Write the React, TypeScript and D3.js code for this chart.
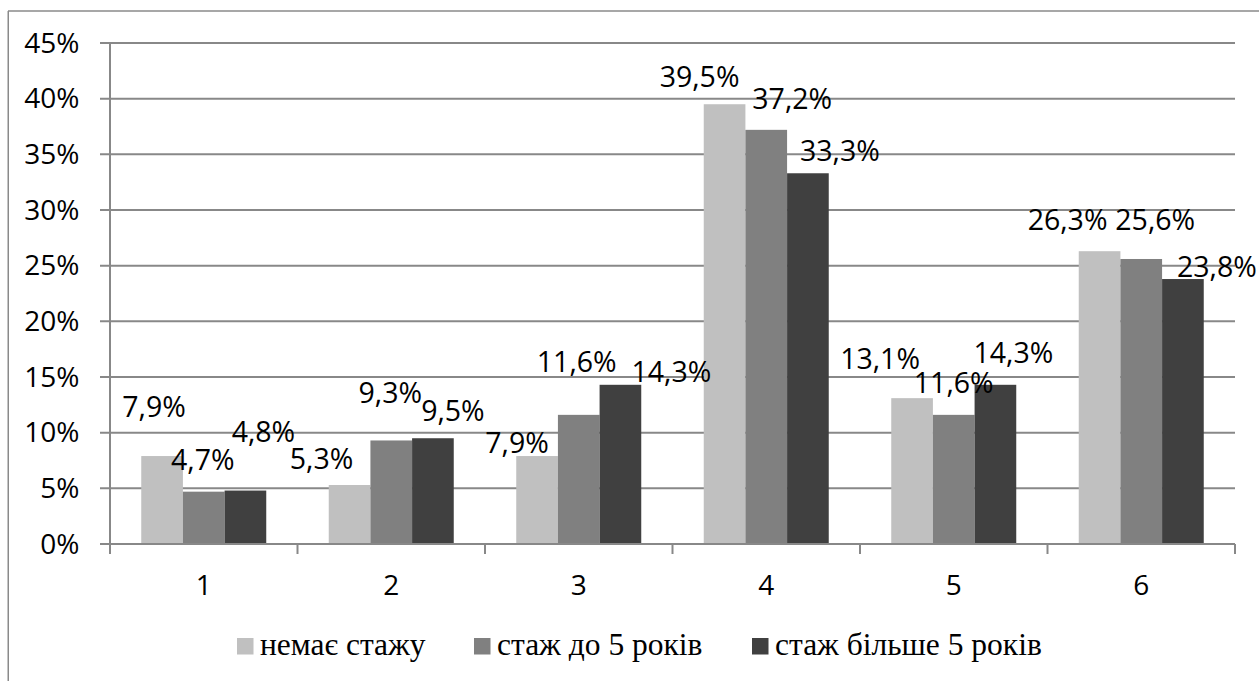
import React from "react";
import * as d3 from "d3";

const categories = ["1", "2", "3", "4", "5", "6"];
const seriesNames = ["немає стажу", "стаж до 5 років", "стаж більше 5 років"];
const noExperience = [7.9, 5.3, 7.9, 39.5, 13.1, 26.3];
const upTo5Years = [4.7, 9.3, 11.6, 37.2, 11.6, 25.6];
const over5Years = [4.8, 9.5, 14.3, 33.3, 14.3, 23.8];
const yTicks = [0, 5, 10, 15, 20, 25, 30, 35, 40, 45];

// manual label nudges (dx, dy) relative to bar centre / bar top, per series & category
const labelOffsets = [
  [[-8, -39], [-28, -16], [-20, -3], [-25, -17], [-32, -29], [-32, -21]],
  [[-1, -22], [-1, -37], [-2, -43], [26, -21], [0, -22], [14, -29]],
  [[18, -49], [20, -17], [51, -3], [32, -12], [18, -22], [34, -2]],
];

const colors = ["#c0c0c0", "#808080", "#404040"];
const seriesValues = [noExperience, upTo5Years, over5Years];

const fmt = (v: number) => v.toFixed(1).replace(".", ",") + "%";

export default function App() {
  const W = 1259;
  const H = 681;
  const left = 110;
  const right = 1235;
  const top = 43;
  const bottom = 544;

  const x = d3.scaleBand<string>().domain(categories).range([left, right]).padding(0);
  const inner = d3
    .scaleBand<string>()
    .domain(seriesNames)
    .range([0, x.bandwidth()])
    .paddingInner(0)
    .paddingOuter(0.75);
  const y = d3.scaleLinear().domain([0, 45]).range([bottom, top]);

  const gridColor = "#888888";
  const sans = "'Open Sans', sans-serif";
  const serif = "'Liberation Serif', 'Times New Roman', serif";

  const legendX = [237, 474, 752];

  return (
    <svg
      width={W}
      height={H}
      style={{ position: "absolute", left: 0, top: 0, display: "block" }}
    >
      <rect x={0} y={0} width={W} height={H} fill="#fff" />
      {/* outer frame */}
      <line x1={8.25} x2={8.25} y1={11} y2={H} stroke="#8a8a8a" strokeWidth={1.5} />
      <line x1={8} x2={W} y1={11} y2={11} stroke="#8a8a8a" strokeWidth={1.5} />

      {/* gridlines + y ticks */}
      {yTicks.map((t) => (
        <g key={t}>
          <line x1={100} x2={right} y1={y(t)} y2={y(t)} stroke={gridColor} strokeWidth={2} />
          <text
            x={79.5}
            y={y(t) + 9.5}
            textAnchor="end"
            fontFamily={sans}
            fontSize={28}
            fill="#000"
          >
            {t + "%"}
          </text>
        </g>
      ))}
      {/* y axis */}
      <line x1={left} x2={left} y1={top} y2={bottom} stroke={gridColor} strokeWidth={2} />
      {/* x axis ticks */}
      {[...categories.map((c) => x(c) as number), right].map((px, i) => (
        <line key={i} x1={px} x2={px} y1={bottom} y2={bottom + 10} stroke={gridColor} strokeWidth={2} />
      ))}

      {/* bars */}
      {seriesValues.map((vals, si) =>
        vals.map((v, ci) => {
          const bx = (x(categories[ci]) as number) + (inner(seriesNames[si]) as number);
          return (
            <rect
              key={`b${si}-${ci}`}
              x={bx}
              y={y(v)}
              width={inner.bandwidth()}
              height={bottom - y(v)}
              fill={colors[si]}
            />
          );
        })
      )}

      {/* x axis line on top of bars */}
      <line x1={left} x2={right} y1={bottom} y2={bottom} stroke={gridColor} strokeWidth={2} />

      {/* category labels */}
      {categories.map((c) => (
        <text
          key={c}
          x={(x(c) as number) + x.bandwidth() / 2}
          y={595}
          textAnchor="middle"
          fontFamily={sans}
          fontSize={28}
          fill="#000"
        >
          {c}
        </text>
      ))}

      {/* data labels */}
      {seriesValues.map((vals, si) =>
        vals.map((v, ci) => {
          const cx =
            (x(categories[ci]) as number) + (inner(seriesNames[si]) as number) + inner.bandwidth() / 2;
          const [dx, dy] = labelOffsets[si][ci];
          return (
            <text
              key={`l${si}-${ci}`}
              x={cx + dx}
              y={y(v) + dy}
              textAnchor="middle"
              fontFamily={sans}
              fontSize={28.5}
              fill="#000"
            >
              {fmt(v)}
            </text>
          );
        })
      )}

      {/* legend */}
      {seriesNames.map((s, i) => (
        <g key={s}>
          <rect x={legendX[i]} y={638} width={16.5} height={16.5} fill={colors[i]} />
          <text x={legendX[i] + 23} y={655} fontFamily={serif} fontSize={31.5} fill="#000">
            {s}
          </text>
        </g>
      ))}
    </svg>
  );
}
